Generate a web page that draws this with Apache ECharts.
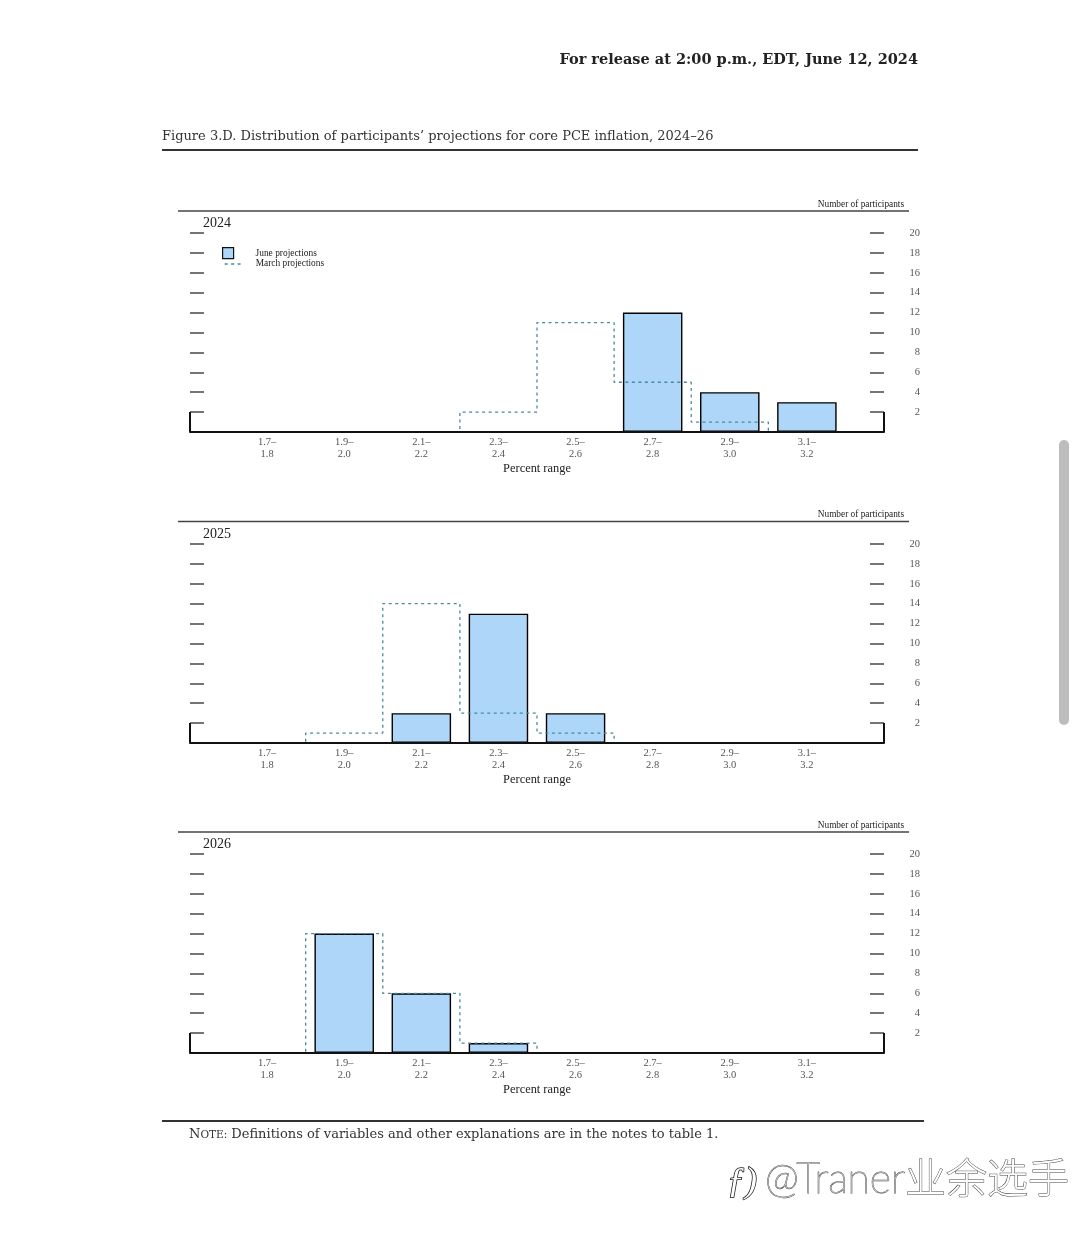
<!DOCTYPE html>
<html><head><meta charset="utf-8">
<style>html,body{margin:0;padding:0;background:#fff}#c{width:1080px;height:1240px}</style>
<script src="https://cdn.jsdelivr.net/npm/echarts@6/dist/echarts.min.js"></script>
</head><body><div id="c"></div>
<script>
const percentRanges = ['1.7–\n1.8','1.9–\n2.0','2.1–\n2.2','2.3–\n2.4','2.5–\n2.6','2.7–\n2.8','2.9–\n3.0','3.1–\n3.2'];
const years = ['2024','2025','2026'];
const june2024  = [0,0,0,0,0,12,4,3];
const march2024 = [0,0,0,2,11,5,1,0];
const june2025  = [0,0,3,13,3,0,0,0];
const march2025 = [0,1,14,3,1,0,0,0];
const june2026  = [0,12,6,1,0,0,0,0];
const march2026 = [0,12,6,1,0,0,0,0];
const juneAll = [june2024, june2025, june2026];
const marchAll = [march2024, march2025, march2026];
const yTicks = {min:0, max:20, interval:2};

const serif = '"Liberation Serif", serif';
const cmr = '"DejaVu Serif", serif';
const axisCats = ['', ...percentRanges, ''];
const panelTops = [233, 544, 854];
const plotH = 199, plotL = 190, plotW = 694;
const rules = [211, 521.5, 832];
const tickColor = '#484848';
const marchColor = '#4b8a9c';

const grid=[], xAxis=[], yAxis=[], series=[], title=[], graphic=[];
function line(x1,y1,x2,y2,w,c){graphic.push({type:'line',z:20,shape:{x1,y1,x2,y2},style:{stroke:c,lineWidth:w}});}

years.forEach((y,i)=>{
  const top = panelTops[i];
  grid.push({left:plotL, top, width:plotW, height:plotH});
  xAxis.push({type:'category', gridIndex:i, data:axisCats, boundaryGap:false, z:10,
    axisLine:{lineStyle:{color:'#111',width:2}}, axisTick:{show:false},
    axisLabel:{interval:0, color:'#555', fontFamily:serif, fontSize:10.5, lineHeight:12, margin:4},
    name:'Percent range', nameLocation:'middle', nameGap:31,
    nameTextStyle:{color:'#222', fontFamily:serif, fontSize:12.4}, splitLine:{show:false}});
  yAxis.push({type:'value', gridIndex:i, position:'left', ...yTicks, axisLine:{show:false},
    axisTick:{show:true, inside:true, length:14, lineStyle:{color:tickColor, width:1.5}},
    axisLabel:{show:false}, splitLine:{show:false}});
  yAxis.push({type:'value', gridIndex:i, position:'right', ...yTicks, axisLine:{show:false},
    axisTick:{show:true, inside:true, length:14, lineStyle:{color:tickColor, width:1.5}},
    axisLabel:{align:'right', margin:36, padding:[4,0,0,0], color:'#555', fontFamily:serif, fontSize:10.5, formatter:v=>v?String(v):''},
    splitLine:{show:false}});
  series.push({name:'June projections', type:'bar', xAxisIndex:i, yAxisIndex:i*2, barWidth:59.5, z:2,
    data:['-', ...juneAll[i].map(v=>v||'-'), '-'],
    itemStyle:{color:'#aed6f8', borderColor:'#000', borderWidth:1.4}});
  series.push({name:'March projections', type:'line', xAxisIndex:i, yAxisIndex:i*2, step:'middle', symbol:'none', z:3,
    data:[0, ...marchAll[i], 0], itemStyle:{color:marchColor},
    lineStyle:{color:marchColor, width:1.3, type:[3,3.5]}});
  title.push({text:y, left:203, top:top-17, padding:0, textStyle:{fontFamily:serif, fontSize:14, fontWeight:'normal', color:'#222'}});
  title.push({text:'Number of participants', right:176, top:rules[i]-11, padding:0, textStyle:{fontFamily:serif, fontSize:9.3, fontWeight:'normal', color:'#222'}});
  line(178,rules[i],909,rules[i],1.3,'#444');
  line(plotL,top+plotH-20,plotL,top+plotH,2,'#111');
  line(plotL+plotW,top+plotH-20,plotL+plotW,top+plotH,2,'#111');
});

const noteStyle = {fontFamily:cmr, fontSize:13, color:'#333'};
title.push({text:'For release at 2:00 p.m., EDT, June 12, 2024', right:162, top:53, padding:0, textStyle:{fontFamily:cmr, fontSize:14.5, fontWeight:'bold', color:'#222'}});
title.push({text:'Figure 3.D. Distribution of participants’ projections for core PCE inflation, 2024–26', left:162, top:130.5, padding:0, textStyle:{...noteStyle, fontWeight:'normal'}});
title.push({text:'{c|N}{s|OTE:} Definitions of variables and other explanations are in the notes to table 1.', left:189, top:1128.5, padding:0,
  textStyle:{...noteStyle, fontWeight:'normal', rich:{c:{...noteStyle}, s:{...noteStyle, fontSize:10.5}}}});
title.push({text:'@Traner业余选手', left:765, top:1159, padding:0, textStyle:{fontFamily:'Lato, "Noto Sans CJK SC", sans-serif', fontSize:41, fontWeight:200, color:'#fff', textBorderColor:'#444', textBorderWidth:1}});
title.push({text:'ƒ)', left:727, top:1165, padding:0, textStyle:{fontFamily:serif, fontSize:36, fontStyle:'italic', fontWeight:'normal', color:'#fff', textBorderColor:'#111', textBorderWidth:1.5}});

line(162,150,918,150,2,'#333');
line(162,1121,924,1121,2,'#333');
graphic.push({type:'rect', z:20, shape:{x:1059,y:440,width:10,height:285,r:5}, style:{fill:'#bdbdbd'}});

const legendText = {fontFamily:serif, fontSize:9.4, color:'#222'};
const legend = [
  {data:[{name:'June projections', icon:'rect'}], left:222, top:247, itemWidth:11, itemHeight:11, itemGap:0, padding:0,
    itemStyle:{color:'#aed6f8', borderColor:'#111', borderWidth:1.2}, textStyle:{...legendText, padding:[0,0,0,17]}},
  {data:['March projections'], left:224, top:259.5, itemWidth:18, itemHeight:11, itemGap:0, padding:0,
    itemStyle:{color:'transparent', borderWidth:0, opacity:0}, lineStyle:{color:marchColor, width:1.3, type:[3,3.5]}, textStyle:{...legendText, padding:[0,0,0,8]}}
];

const chart = echarts.init(document.getElementById('c'), null, {renderer:'canvas'});
chart.setOption({animation:false, backgroundColor:'#fff', grid, xAxis, yAxis, series, title, legend, graphic});
</script></body></html>
